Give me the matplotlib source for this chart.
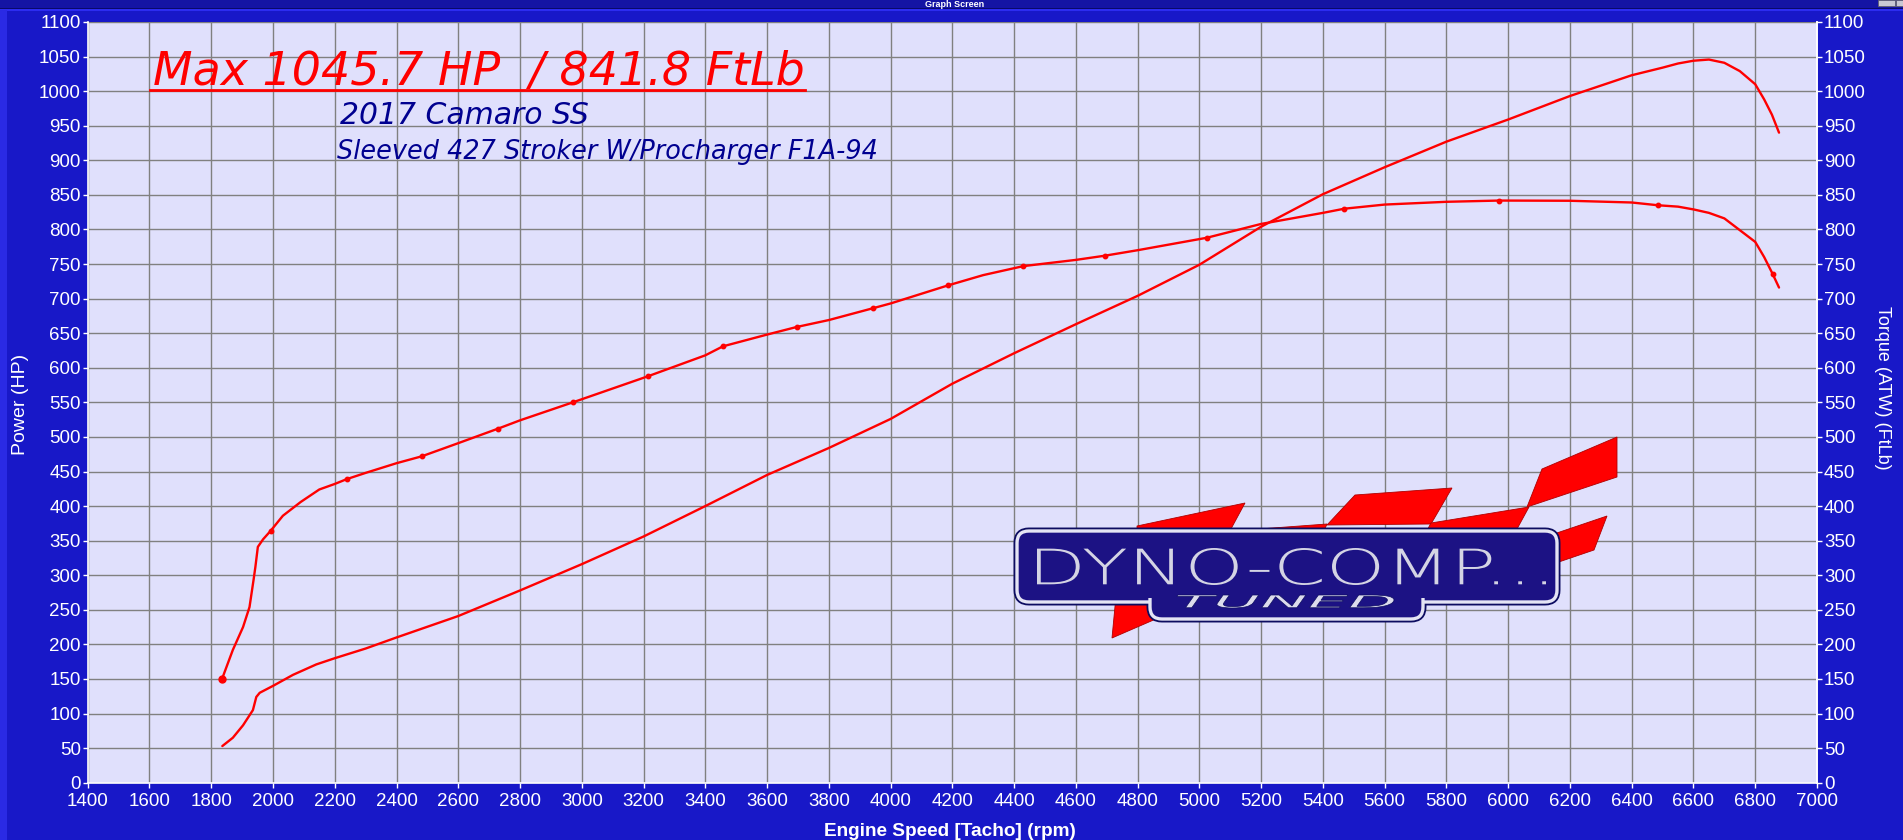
import matplotlib
matplotlib.use("Agg")
import matplotlib.pyplot as plt
from matplotlib.patches import Polygon, Rectangle, FancyBboxPatch, PathPatch
from matplotlib.textpath import TextPath
from matplotlib.font_manager import FontProperties
from matplotlib.path import Path
from matplotlib.lines import Line2D

# ---------------- data ----------------
torque_rpm = [1835, 1870, 1903, 1924, 1937, 1943, 1951, 1968, 1992, 2032, 2090, 2150,
              2200, 2239, 2300, 2400, 2482, 2600, 2729, 2800, 2971, 3216, 3400, 3457,
              3600, 3696, 3800, 3942, 4000, 4185, 4300, 4430, 4600, 4693, 4800, 5024,
              5200, 5400, 5469, 5600, 5800, 5971, 6200, 6400, 6485, 6550, 6600, 6650,
              6700, 6750, 6800, 6829, 6856, 6877]
torque_ftlb = [150, 192, 225, 254, 293, 312, 341, 352, 364, 386, 406, 424,
               432, 439, 448, 462, 472, 491, 512, 524, 550, 588, 618, 631,
               648, 659, 669, 686, 693, 719, 734, 747, 756, 762, 770, 788,
               808, 824, 830, 836, 840, 841.8, 841.5, 839, 835, 833, 829, 824,
               816, 799, 782, 760, 736, 716]

power_rpm = [1836, 1870, 1903, 1935, 1946, 1957, 2000, 2065, 2140, 2200, 2300, 2400,
             2600, 2800, 3000, 3200, 3400, 3600, 3800, 4000, 4200, 4400, 4600, 4800,
             5000, 5200, 5400, 5600, 5800, 6000, 6200, 6400, 6500, 6550, 6600, 6650,
             6700, 6750, 6800, 6829, 6854, 6877]
power_hp = [53, 65, 83, 105, 124, 130, 140, 156, 171, 180, 194, 210,
            241, 278, 316, 356, 400, 445, 484, 526, 577, 621, 663, 704,
            749, 804, 851, 890, 927, 959, 993, 1023, 1034, 1040, 1044, 1045.7,
            1041, 1029, 1010, 988, 966, 940]

marker_rpm = [1992, 2239, 2482, 2729, 2971, 3216, 3457, 3696, 3942, 4185, 4430,
              4693, 5024, 5469, 5971, 6485, 6856]
marker_ftlb = [364, 439, 472, 512, 550, 588, 631, 659, 686, 719, 747,
               762, 788, 830, 841.8, 835, 736]
start_rpm = [1835]
start_ftlb = [150]

x_ticks = list(range(1400, 7001, 200))
y_ticks = list(range(0, 1101, 50))

title_text = "Max 1045.7 HP  / 841.8 FtLb"
car_text = "2017 Camaro SS"
engine_text = "Sleeved 427 Stroker W/Procharger F1A-94"
x_label = "Engine Speed [Tacho] (rpm)"
y_left_label = "Power (HP)"
y_right_label = "Torque (ATW) (FtLb)"
window_title = "Graph Screen"

# ---------------- figure ----------------
W, H = 1903, 840
BG = "#1818c8"
PLOT_BG = "#e0e0fc"
GRID = "#808080"
RED = "#ff0000"
TICKFONT = "Liberation Sans"

fig = plt.figure(figsize=(W / 100, H / 100), dpi=100)
fig.patch.set_facecolor(BG)


def fx(x):
    return x / W


def fy(y):
    return 1 - y / H


def fig_poly(pts, **kw):
    p = Polygon([(fx(a), fy(b)) for a, b in pts], closed=True,
                transform=fig.transFigure, **kw)
    fig.add_artist(p)
    return p


def fig_rect(x0, y0, x1, y1, **kw):
    r = Rectangle((fx(x0), fy(y1)), fx(x1) - fx(x0), fy(y0) - fy(y1),
                  transform=fig.transFigure, **kw)
    fig.add_artist(r)
    return r


# window chrome
fig_rect(0, 0, W, 8, facecolor="#1414a4", edgecolor="none", zorder=0)
fig_rect(0, 8, W, 9, facecolor="#0a0a6a", edgecolor="none", zorder=0)
fig_rect(0, 9, W, 10.5, facecolor="#2c2cf0", edgecolor="none", zorder=0)
fig_rect(0, 10, 7, H, facecolor="#2a2ae4", edgecolor="none", zorder=0)
fig_rect(1878, 0, 1895, 6, facecolor="#c8c8d4", edgecolor="#606070", lw=0.6, zorder=1)
fig_rect(1896, 0, 1903, 6, facecolor="#c8c8d4", edgecolor="#606070", lw=0.6, zorder=1)
fig.text(fx(955), fy(7), window_title, color="white", fontsize=6.5, fontweight="bold",
         family=TICKFONT, ha="center", va="baseline")

# axes
L, R, T, B = 87.7, 1817.0, 22.0, 782.7
ax = fig.add_axes([fx(L), fy(B), fx(R) - fx(L), fy(T) - fy(B)])
ax.set_facecolor(PLOT_BG)
ax.set_xlim(1400, 7000)
ax.set_ylim(0, 1100)
ax.set_xticks(x_ticks)
ax.set_yticks(y_ticks)
ax.grid(True, color=GRID, lw=1.0)
ax.set_axisbelow(True)
for s in ["left", "bottom"]:
    ax.spines[s].set_color("white")
    ax.spines[s].set_linewidth(1.2)
ax.spines["top"].set_visible(False)
ax.spines["right"].set_color("white")
ax.spines["right"].set_linewidth(1.2)
ax.tick_params(axis="y", colors="white", length=3.5, width=1, pad=1.5,
               labelsize=13.5)
ax.tick_params(axis="x", colors="white", length=3.5, width=1, pad=4,
               labelsize=13.5)
for lab in ax.get_xticklabels() + ax.get_yticklabels():
    lab.set_family(TICKFONT)

ax2 = ax.twinx()
ax2.set_ylim(0, 1100)
ax2.set_yticks(y_ticks)
for s in ["left", "top", "bottom"]:
    ax2.spines[s].set_visible(False)
ax2.spines["right"].set_color("white")
ax2.spines["right"].set_linewidth(1.2)
ax2.tick_params(axis="y", colors="white", length=3.5, width=1, pad=1.5,
                labelsize=13.5)
for lab in ax2.get_yticklabels():
    lab.set_family(TICKFONT)

# curves
ax.plot(power_rpm, power_hp, color=RED, lw=1.7, zorder=5, solid_capstyle="round",
        solid_joinstyle="round")
ax.plot(torque_rpm, torque_ftlb, color=RED, lw=1.7, zorder=5, solid_capstyle="round",
        solid_joinstyle="round")
ax.plot(marker_rpm, marker_ftlb, "o", color=RED, ms=3.2, zorder=6)
ax.plot(start_rpm, start_ftlb, "o", color=RED, ms=5, zorder=6)

# labels
fig.text(fx(21), fy(404), y_left_label, rotation=90, color="white", fontsize=14,
         family=TICKFONT, ha="center", va="center")
fig.text(fx(1882), fy(388), y_right_label, rotation=-90, color="white", fontsize=13,
         family=TICKFONT, ha="center", va="center")
fig.text(fx(950), fy(836), x_label, color="white", fontsize=13.7, fontweight="bold",
         family=TICKFONT, ha="center", va="baseline")

# annotation texts
fig.text(fx(153), fy(85), title_text, color=RED, fontsize=33, style="italic",
         family="DejaVu Sans", ha="left", va="baseline", zorder=10)
fig.add_artist(Line2D([fx(150), fx(805)], [fy(90), fy(90)], color=RED, lw=2,
                      transform=fig.transFigure, zorder=10))
fig.text(fx(340), fy(124), car_text, color="#000090", fontsize=21.5, style="italic",
         family="DejaVu Sans", ha="left", va="baseline", zorder=10)
fig.text(fx(337), fy(159), engine_text, color="#000090", fontsize=18.4, style="italic",
         family="DejaVu Sans", ha="left", va="baseline", zorder=10)

# ---------------- logo ----------------
FLAG = dict(facecolor="#ff0000", edgecolor="#b00000", lw=0.6, zorder=3)
fig_poly([(1137, 526), (1245, 503), (1225, 540), (1137, 540)], **FLAG)
fig_poly([(1232, 531), (1327, 524), (1320, 540), (1232, 540)], **FLAG)
fig_poly([(1355, 495), (1452, 488), (1431, 524), (1327, 525)], **FLAG)
fig_poly([(1431, 523), (1529, 507), (1511, 540), (1422, 540)], **FLAG)
fig_poly([(1542, 469), (1617, 437), (1617, 477), (1527, 507)], **FLAG)
fig_poly([(1545, 537), (1607, 516), (1594, 550), (1550, 565)], **FLAG)
fig_poly([(1112, 638), (1116, 596), (1175, 596), (1172, 612)], **FLAG)


def fig_round(x0, y0, x1, y1, pad, **kw):
    p = FancyBboxPatch((x0, H - y1), x1 - x0, y1 - y0,
                       boxstyle="round,pad=0,rounding_size=%g" % pad,
                       transform=None, **kw)
    fig.add_artist(p)
    return p


NAVY = "#1c1284"
fig_round(1017, 531, 1557, 602, 12, facecolor=NAVY, edgecolor="#0c0c60", lw=5, zorder=4)
fig_round(1150, 560, 1423, 619, 12, facecolor=NAVY, edgecolor="#0c0c60", lw=5, zorder=4)
fig_round(1017, 531, 1557, 602, 12, facecolor=NAVY, edgecolor="#e4e4f4", lw=2.4, zorder=4.1)
fig_round(1150, 560, 1423, 619, 12, facecolor=NAVY, edgecolor="#e4e4f4", lw=2.4, zorder=4.1)
fig_round(1021, 535, 1553, 598, 9, facecolor=NAVY, edgecolor="none", zorder=4.2)
fig_round(1154, 560, 1419, 615, 9, facecolor=NAVY, edgecolor="none", zorder=4.2)


def fit_text(s, x0, y0, x1, y1, prop, **kw):
    tp = TextPath((0, 0), s, size=10, prop=prop)
    v = tp.vertices.copy()
    ex = tp.get_extents()
    v[:, 0] = x0 + (v[:, 0] - ex.x0) / (ex.x1 - ex.x0) * (x1 - x0)
    v[:, 1] = (H - y1) + (v[:, 1] - ex.y0) / (ex.y1 - ex.y0) * (y1 - y0)
    p = PathPatch(Path(v, tp.codes), transform=None, **kw)
    fig.add_artist(p)
    return p


fit_text("DYNO-COMP...", 1037, 548, 1546, 585,
         FontProperties(family="DejaVu Sans", weight="light"),
         facecolor="#d4d4e4", edgecolor="none", zorder=5)
fit_text("TUNED", 1177, 595, 1394, 608,
         FontProperties(family="DejaVu Sans", style="italic"),
         facecolor="#dcdcec", edgecolor="#0c0c60", lw=0.5, zorder=5)

fig.savefig("out.png", dpi=100, facecolor=fig.get_facecolor())
